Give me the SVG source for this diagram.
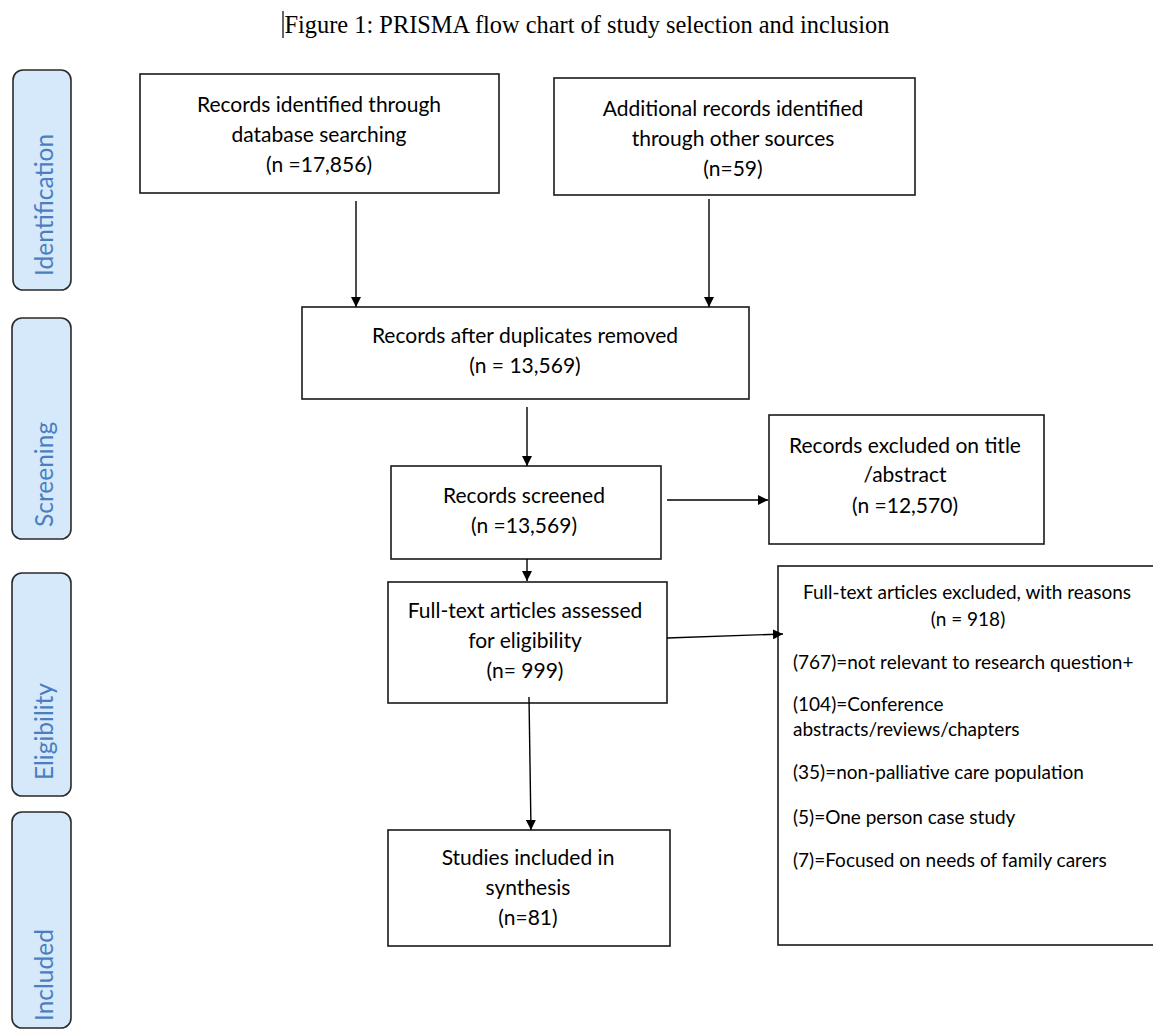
<svg xmlns="http://www.w3.org/2000/svg" width="1153" height="1030" viewBox="0 0 1153 1030">
  <defs>
    <marker id="arr" viewBox="0 0 10 10" refX="10" refY="5" markerWidth="10" markerHeight="10" markerUnits="userSpaceOnUse" orient="auto">
      <path d="M0,0 L10,5 L0,10 z" fill="#000"/>
    </marker>
    <style>
      .box { fill: #fff; stroke: #1a1a1a; stroke-width: 1.6; }
      .phase { fill: #d5e9fb; stroke: #2a2a2a; stroke-width: 1.6; }
      .t { font-family: Lato, "Liberation Sans", sans-serif; font-size: 21px; fill: #000; text-anchor: middle; }
      .s { font-family: Lato, "Liberation Sans", sans-serif; font-size: 19px; fill: #000; }
      .p { font-family: Lato, "Liberation Sans", sans-serif; font-size: 24.5px; fill: #4a7ec0; text-anchor: start; }
      .c { stroke: #000; stroke-width: 1.4; fill: none; marker-end: url(#arr); }
    </style>
  </defs>
  <rect width="1153" height="1030" fill="#fff"/>

  <g id="title">
    <line x1="283" y1="11" x2="283" y2="38" stroke="#000" stroke-width="1.2"/>
    <text x="284.5" y="33" font-family="Liberation Serif, serif" font-size="24.4px" fill="#000">Figure 1: PRISMA flow chart of study selection and inclusion</text>
  </g>

  <g id="phase-identification">
    <rect class="phase" x="13" y="70" width="58" height="220" rx="10"/>
    <text class="p" transform="translate(53,276) rotate(-90)">Identification</text>
  </g>
  <g id="phase-screening">
    <rect class="phase" x="12" y="318" width="59" height="221" rx="10"/>
    <text class="p" transform="translate(53,527) rotate(-90)">Screening</text>
  </g>
  <g id="phase-eligibility">
    <rect class="phase" x="12" y="573" width="59" height="223" rx="10"/>
    <text class="p" transform="translate(53,780) rotate(-90)">Eligibility</text>
  </g>
  <g id="phase-included">
    <rect class="phase" x="12" y="812" width="59" height="216" rx="10"/>
    <text class="p" transform="translate(53,1021) rotate(-90)">Included</text>
  </g>

  <g id="n-database">
    <rect class="box" x="140" y="74" width="359" height="119"/>
    <text class="t" x="319" y="112">Records identified through</text>
    <text class="t" x="319" y="142">database searching</text>
    <text class="t" x="319" y="172">(n =17,856)</text>
  </g>
  <g id="n-other">
    <rect class="box" x="554" y="78" width="361" height="117"/>
    <text class="t" x="733" y="116">Additional records identified</text>
    <text class="t" x="733" y="146">through other sources</text>
    <text class="t" x="733" y="176">(n=59)</text>
  </g>
  <g id="n-dedup">
    <rect class="box" x="302" y="307" width="447" height="92"/>
    <text class="t" x="525" y="343">Records after duplicates removed</text>
    <text class="t" x="525" y="373">(n = 13,569)</text>
  </g>
  <g id="n-screened">
    <rect class="box" x="391" y="466" width="270" height="93"/>
    <text class="t" x="524" y="503">Records screened</text>
    <text class="t" x="524" y="533">(n =13,569)</text>
  </g>
  <g id="n-excluded-title">
    <rect class="box" x="769" y="415" width="275" height="129"/>
    <text class="t" x="905" y="453">Records excluded on title</text>
    <text class="t" x="905" y="482">/abstract</text>
    <text class="t" x="905" y="513">(n =12,570)</text>
  </g>
  <g id="n-fulltext">
    <rect class="box" x="388" y="582" width="279" height="121"/>
    <text class="t" x="525" y="618">Full-text articles assessed</text>
    <text class="t" x="525" y="648">for eligibility</text>
    <text class="t" x="525" y="678">(n= 999)</text>
  </g>
  <g id="n-fulltext-excluded">
    <rect class="box" x="778" y="566" width="400" height="379"/>
    <text class="s" x="967" y="599" text-anchor="middle">Full-text articles excluded, with reasons</text>
    <text class="s" x="968" y="626" text-anchor="middle">(n = 918)</text>
    <text class="s" x="793" y="669">(767)=not relevant to research question+</text>
    <text class="s" x="793" y="711">(104)=Conference</text>
    <text class="s" x="793" y="736">abstracts/reviews/chapters</text>
    <text class="s" x="793" y="779">(35)=non-palliative care population</text>
    <text class="s" x="793" y="824">(5)=One person case study</text>
    <text class="s" x="793" y="867">(7)=Focused on needs of family carers</text>
  </g>
  <g id="n-included">
    <rect class="box" x="388" y="830" width="282" height="116"/>
    <text class="t" x="528" y="865">Studies included in</text>
    <text class="t" x="528" y="895">synthesis</text>
    <text class="t" x="528" y="925">(n=81)</text>
  </g>

  <g id="connectors">
    <line class="c" x1="356" y1="201" x2="356" y2="307"/>
    <line class="c" x1="709" y1="199" x2="709" y2="307"/>
    <line class="c" x1="527" y1="407" x2="527" y2="466"/>
    <line class="c" x1="667" y1="500" x2="768" y2="500"/>
    <line class="c" x1="527" y1="559" x2="527" y2="581"/>
    <line class="c" x1="667" y1="638" x2="783" y2="634"/>
    <line class="c" x1="529" y1="697" x2="531" y2="830"/>
  </g>
</svg>
